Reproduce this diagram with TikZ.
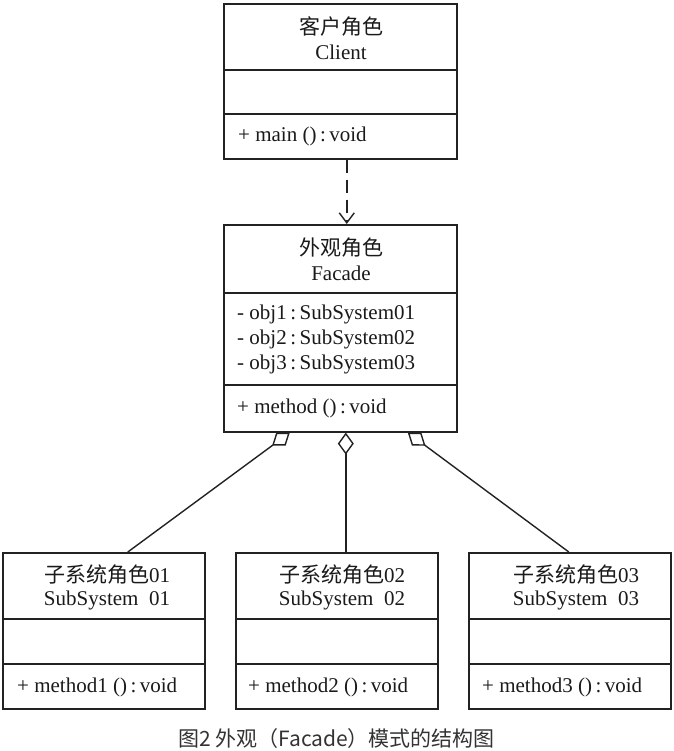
\documentclass[tikz,border=0pt]{standalone}
\usepackage{fontspec}
\setmainfont{Liberation Serif}
\newfontfamily\cjk{Noto Sans CJK SC}
\usetikzlibrary{arrows.meta}
\definecolor{linec}{HTML}{222222}
\definecolor{txtc}{HTML}{1A1A1A}
\definecolor{capc}{HTML}{333333}
\begin{document}
\begin{tikzpicture}[x=1pt,y=-1pt,
  umlbox/.style={draw=linec,line width=1.6pt,fill=white,inner sep=0pt,anchor=north west,minimum height=#1},
  wide/.style={minimum width=233pt},
  sub/.style={minimum width=202pt},
  divider/.style={draw=linec,line width=1.6pt},
  title/.style={inner sep=0pt,text=txtc,font=\fontsize{21}{24}\selectfont},
  member/.style={inner sep=0pt,anchor=west,text=txtc,font=\fontsize{21}{24}\selectfont},
  agg/.style={draw=linec,line width=1.4pt,-{Diamond[open,length=22pt,width=16pt]}},
  dep/.style={draw=linec,line width=1.4pt,dash pattern=on 13pt off 7pt,-{Straight Barb[length=10pt,width=15pt]}}
]
\useasboundingbox (0,0) rectangle (673,751);

% Client
\node[umlbox=155pt,wide] (cl) at (223,3) {};
\draw[divider] (223,70) -- (456,70);
\draw[divider] (223,114) -- (456,114);
\node[title] (clcn) at (341,27) {\cjk 客户角色};
\node[title] (clen) at (341,52) {Client};
\node[member] (clm) at (238,136) {+ main ()\,:\,void};

% Facade
\node[umlbox=207pt,wide] (fac) at (223,224) {};
\draw[divider] (223,293) -- (456,293);
\draw[divider] (223,385) -- (456,385);
\node[title] (faccn) at (341,248) {\cjk 外观角色};
\node[title] (facen) at (341,273) {Facade};
\node[member] (fa1) at (237,314) {- obj1\,:\,SubSystem01};
\node[member] (fa2) at (237,339) {- obj2\,:\,SubSystem02};
\node[member] (fa3) at (237,364) {- obj3\,:\,SubSystem03};
\node[member] (fam) at (237,408) {+ method ()\,:\,void};

% Subsystems
\node[umlbox=156pt,sub] (s1) at (2,552) {};
\node[umlbox=156pt,sub] (s2) at (235,552) {};
\node[umlbox=156pt,sub] (s3) at (468,552) {};
\foreach \x in {2,235,468}{
  \draw[divider] (\x,619) -- (\x+202,619);
  \draw[divider] (\x,664) -- (\x+202,664);
}
\node[title] (s1cn) at (107,575) {{\cjk 子系统角色}01};
\node[title] (s1en) at (107,600) {SubSystem\hspace{0.5em}01};
\node[member] (s1m) at (17,687) {+ method1 ()\,:\,void};
\node[title] (s2cn) at (342,575) {{\cjk 子系统角色}02};
\node[title] (s2en) at (342,600) {SubSystem\hspace{0.5em}02};
\node[member] (s2m) at (248,687) {+ method2 ()\,:\,void};
\node[title] (s3cn) at (576,575) {{\cjk 子系统角色}03};
\node[title] (s3en) at (576,600) {SubSystem\hspace{0.5em}03};
\node[member] (s3m) at (482,687) {+ method3 ()\,:\,void};

% Connectors
\draw[dep] ([xshift=6.5pt]cl.south) -- ([xshift=6.5pt]fac.north);
\draw[agg] ([xshift=24pt]s1.north) -- ([xshift=-50.5pt]fac.south);
\draw[agg] ([xshift=9pt]s2.north) -- ([xshift=5.5pt]fac.south);
\draw[agg] ([xshift=-1pt]s3.north) -- ([xshift=67.5pt]fac.south);

% Caption
\node[inner sep=0pt,text=capc,font=\cjk\fontsize{21}{24}\selectfont] (cap) at (336.5,739) {图2 外观（Facade）模式的结构图};
\end{tikzpicture}
\end{document}
